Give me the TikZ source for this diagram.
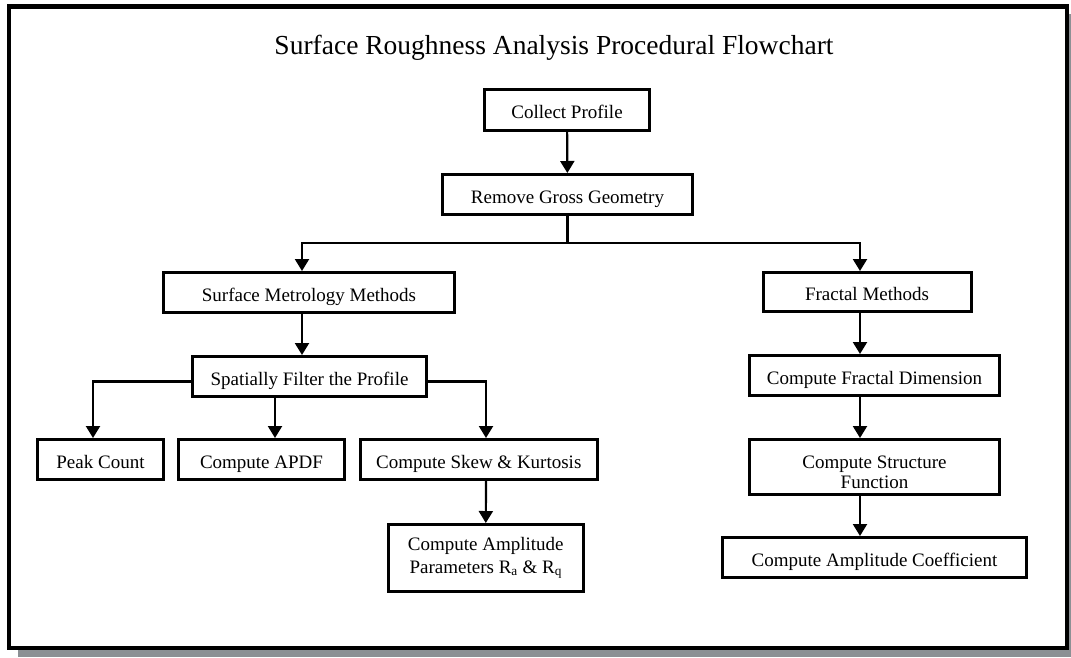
\documentclass[tikz,border=0pt]{standalone}
\usepackage{fontspec}
\setmainfont{Liberation Serif}
\usetikzlibrary{arrows.meta}
\definecolor{shadowgray}{RGB}{140,144,148}

\begin{document}
\begin{tikzpicture}[
        x=1pt, y=-1pt,
        process/.style={rectangle, draw=black, line width=3pt, inner sep=0pt, minimum height=40pt, text height=17pt, text depth=0pt, text centered, align=center, font={\fontsize{19}{23}\selectfont}},
        twolines/.style={text height=, text depth=},
        heading/.style={inner sep=0pt, font={\fontsize{27.5}{30}\selectfont}},
        flow/.style={arrows=-{Triangle[length=12pt,width=14pt]}, line width=2.2pt}
        ]

        \useasboundingbox (0,0) rectangle (1071,657);

        % frame with its shadow
        \fill [shadowgray] (18,14) rectangle (1071,657);
        \draw [line width=4.5pt, fill=white] (9.2,6.5) rectangle (1066.8,648);

        \node (node0)  [heading]                                        at (554,48)      {Surface Roughness Analysis Procedural Flowchart};

        \node (node1)  [process, minimum width=165pt, minimum height=41pt] at (567,110)     {Collect Profile};
        \node (node2)  [process, minimum width=250pt]                   at (567.5,194.5) {Remove Gross Geometry};
        \node (node3)  [process, minimum width=291pt]                   at (309,292.5)   {Surface Metrology Methods};
        \node (node4)  [process, minimum width=208pt, minimum height=39pt] at (867,292)     {Fractal Methods};
        \node (node5)  [process, minimum width=234pt]                   at (309.5,376.5) {Spatially Filter the Profile};
        \node (node6)  [process, minimum width=250pt]                   at (874.5,375.5) {Compute Fractal Dimension};
        \node (node7)  [process, minimum width=126pt]                   at (100.5,459.5) {Peak Count};
        \node (node8)  [process, minimum width=166pt]                   at (261.5,459.5) {Compute APDF};
        \node (node9)  [process, minimum width=237.5pt]                 at (478.75,459.5) {Compute Skew \& Kurtosis};
        \node (node10) [process, twolines, minimum width=194.6pt, minimum height=67pt] at (485.8,558) {Compute Amplitude\\Parameters R\textsubscript{a} \& R\textsubscript{q}};
        \node (node11) [process, text height=42pt, text depth=0pt, minimum width=250pt, minimum height=55pt, font={\fontsize{19}{20}\selectfont}] at (874.5,467) {Compute Structure\\Function};
        \node (node12) [process, minimum width=304pt]                   at (874.5,557.5) {Compute Amplitude Coefficient};

        \coordinate (split) at (567.5,243);

        \draw [flow] (node1) -- (node2);
        \draw [flow] (node2.south) -- (split) -| ([xshift=-7pt]node3.north);
        \draw [flow] (node2.south) -- (split) -| ([xshift=-7pt]node4.north);

        % left branch
        \draw [flow] ([xshift=-7pt]node3.south) -- ([xshift=-7.5pt]node5.north);
        \draw [flow] ([yshift=-5pt]node5.west) -| ([xshift=-7.5pt]node7.north);
        \draw [flow] ([xshift=-34.5pt]node5.south) -- ([xshift=13.5pt]node8.north);
        \draw [flow] ([yshift=-5pt]node5.east) -| ([xshift=7.25pt]node9.north);
        \draw [flow] ([xshift=7.25pt]node9.south) -- (node10.north);

        % right branch
        \draw [flow] ([xshift=-7pt]node4.south) -- ([xshift=-14.5pt]node6.north);
        \draw [flow] ([xshift=-14.5pt]node6.south) -- ([xshift=-14.5pt]node11.north);
        \draw [flow] ([xshift=-14.5pt]node11.south) -- ([xshift=-14.5pt]node12.north);

    \end{tikzpicture}
\end{document}
